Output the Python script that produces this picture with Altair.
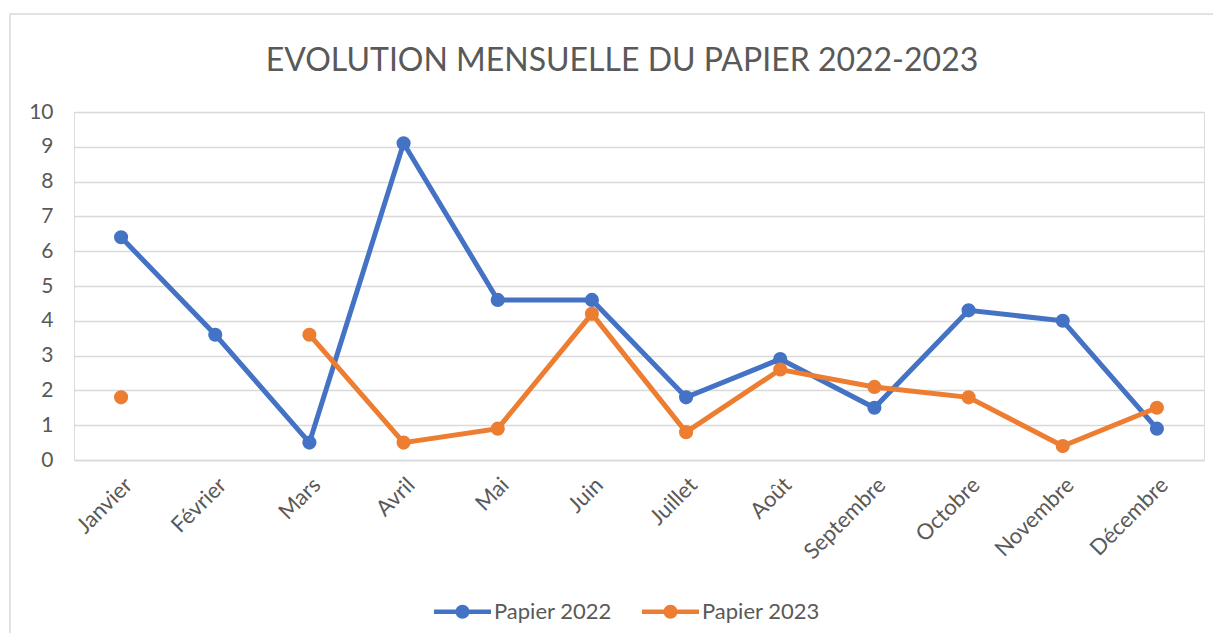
import altair as alt
import pandas as pd

months = ["Janvier", "Février", "Mars", "Avril", "Mai", "Juin", "Juillet",
          "Août", "Septembre", "Octobre", "Novembre", "Décembre"]
papier_2022 = [6.4, 3.6, 0.5, 9.1, 4.6, 4.6, 1.8, 2.9, 1.5, 4.3, 4.0, 0.9]
papier_2023 = [1.8, None, 3.6, 0.5, 0.9, 4.2, 0.8, 2.6, 2.1, 1.8, 0.4, 1.5]
series = ["Papier 2022", "Papier 2023"]
colors = ["#4472C4", "#ED7D31"]
title = "EVOLUTION MENSUELLE DU PAPIER 2022-2023"

rows = []
for m, a, b in zip(months, papier_2022, papier_2023):
    rows.append({"Mois": m, "Série": series[0], "Valeur": a})
    rows.append({"Mois": m, "Série": series[1], "Valeur": b})
df = pd.DataFrame(rows)

FONT = "Lato"
GRAY = "#595959"
W, H = 1130, 348

x_enc = alt.X("Mois:N", sort=months, scale=alt.Scale(type="point", padding=0.5),
              axis=alt.Axis(title=None, labelAngle=-45, ticks=False, domain=True, domainColor="#D9D9D9",
                            domainWidth=1.5, labelPadding=14, labelFontSize=22, labelColor=GRAY,
                            labelFont=FONT, grid=False))
y_enc = alt.Y("Valeur:Q", scale=alt.Scale(domain=[0, 10], nice=False),
              axis=alt.Axis(title=None, values=list(range(11)), ticks=False, domain=False,
                            gridColor="#D9D9D9", gridWidth=1.5, labelPadding=21,
                            labelFontSize=21, labelColor=GRAY, labelFont=FONT))
color_scale = alt.Scale(domain=series, range=colors)

legend_path = ("M-1,-0.08 L1,-0.08 L1,0.08 L-1,0.08 Z "
               "M0.245,0 A0.245,0.245 0 1,1 -0.245,0 A0.245,0.245 0 1,1 0.245,0 Z")
legend = alt.Legend(title=None, orient="none", direction="horizontal",
                    legendX=360, legendY=471,
                    symbolType=legend_path, symbolSize=3249,
                    symbolStrokeWidth=0,
                    labelFontSize=22, labelColor=GRAY, labelFont=FONT, labelOffset=3,
                    columnPadding=30)

base = alt.Chart(df)

lines = base.mark_line(strokeWidth=5).encode(
    x=x_enc, y=y_enc,
    color=alt.Color("Série:N", scale=color_scale, legend=legend),
)
points = base.mark_point(filled=True, size=200, opacity=1).encode(
    x=x_enc, y=y_enc,
    color=alt.Color("Série:N", scale=color_scale, legend=legend),
).transform_filter("datum.Valeur != null")

frame = alt.Chart(pd.DataFrame({"a": [0]})).mark_rect(
    fill=None, stroke="#D9D9D9", strokeWidth=1.5
).encode(x=alt.value(-64), x2=alt.value(1160), y=alt.value(-98), y2=alt.value(560))

chart = alt.layer(frame, lines, points).properties(
    width=W, height=H,
    title=alt.TitleParams(title, font=FONT, fontSize=32, fontWeight="normal", color=GRAY,
                          anchor="middle", dx=-17, offset=-65),
    autosize=alt.AutoSizeParams(type="none"),
    padding={"left": 66, "top": 104, "right": 9, "bottom": 173},
).configure_view(stroke=None).configure(background="white")

chart.save("out.html", embed_options={"renderer": "svg", "actions": False})
